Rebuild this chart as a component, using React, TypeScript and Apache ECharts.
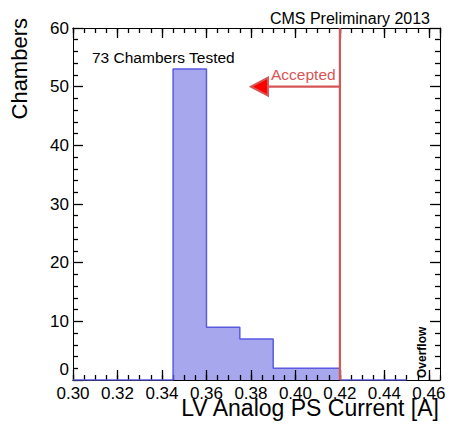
import React, { useEffect, useRef } from "react";
import * as echarts from "echarts";

// ---- data ----
const binEdges = [0.3, 0.315, 0.33, 0.345, 0.36, 0.375, 0.39, 0.405, 0.42, 0.435, 0.45];
const binCounts = [0, 0, 0, 53, 9, 7, 2, 2, 0, 0];
const cutValue = 0.42;
const arrowY = 50;
const arrowTipX = 0.38;
const xMin = 0.3;
const xMax = 0.465;
const yMin = 0;
const yMax = 60;
const xMajorStep = 0.02;
const xMinorStep = 0.005;
const yMajorStep = 10;

const FONT = "'Liberation Sans', Arial, Helvetica, sans-serif";
const RED = "#d65555";
const BLUE = "#5b5be0";
const FILL = "#a7a7ee";

function stepPoints(): number[][] {
  const pts: number[][] = [[binEdges[0], 0]];
  for (let i = 0; i < binCounts.length; i++) {
    pts.push([binEdges[i], binCounts[i]]);
    pts.push([binEdges[i + 1], binCounts[i]]);
  }
  pts.push([binEdges[binEdges.length - 1], 0]);
  return pts;
}

export default function App() {
  const ref = useRef<HTMLDivElement>(null);
  useEffect(() => {
    if (!ref.current) return;
    const chart = echarts.init(ref.current, undefined, { renderer: "svg" });
    const tickLine = { color: "#000", width: 1.3 };
    const xBase = {
      type: "value" as const,
      min: xMin,
      max: xMax,
      splitLine: { show: false },
      axisLine: { show: true, lineStyle: { color: "#000", width: 1 } },
      z: 3,
    };
    const yBase = {
      type: "value" as const,
      min: yMin,
      max: yMax,
      interval: yMajorStep,
      splitLine: { show: false },
      axisLine: { show: true, lineStyle: { color: "#000", width: 1 } },
      z: 3,
    };
    chart.setOption({
      animation: false,
      grid: { left: 73, top: 28, right: 9, bottom: 50 },
      xAxis: [
        {
          ...xBase,
          position: "bottom",
          interval: xMajorStep,
          axisTick: { show: true, inside: true, length: 10, lineStyle: tickLine },
          axisLabel: {
            color: "#000",
            fontSize: 17,
            fontFamily: FONT,
            margin: 5,
            showMaxLabel: false,
            formatter: (v: number) => v.toFixed(2),
          },
        },
        {
          ...xBase,
          position: "bottom",
          interval: xMinorStep,
          axisTick: { show: true, inside: true, length: 5, lineStyle: tickLine },
          axisLabel: { show: false },
        },
        {
          ...xBase,
          position: "top",
          interval: xMajorStep,
          axisTick: { show: true, inside: true, length: 10, lineStyle: tickLine },
          axisLabel: { show: false },
        },
        {
          ...xBase,
          position: "top",
          interval: xMinorStep,
          axisTick: { show: true, inside: true, length: 5, lineStyle: tickLine },
          axisLabel: { show: false },
        },
      ],
      yAxis: [
        {
          ...yBase,
          position: "left",
          axisTick: { show: true, inside: true, length: 10, lineStyle: tickLine },
          minorTick: { show: true, splitNumber: 5, length: 5, lineStyle: tickLine },
          axisLabel: {
            color: "#000",
            fontSize: 17,
            fontFamily: FONT,
            margin: 4,
            formatter: (v: number) => (v === 0 ? "{z|0}" : String(v)),
            rich: {
              z: { fontSize: 17, fontFamily: FONT, color: "#000", padding: [0, 0, 22, 0] },
            },
          },
        },
        {
          ...yBase,
          position: "right",
          axisTick: { show: true, inside: true, length: 10, lineStyle: tickLine },
          minorTick: { show: true, splitNumber: 5, length: 5, lineStyle: tickLine },
          axisLabel: { show: false },
        },
      ],
      series: [
        {
          type: "line",
          xAxisIndex: 0,
          yAxisIndex: 0,
          data: stepPoints(),
          symbol: "none",
          lineStyle: { width: 0, opacity: 0 },
          areaStyle: { color: FILL, opacity: 1 },
          z: 1,
        },
        {
          type: "line",
          xAxisIndex: 0,
          yAxisIndex: 0,
          data: stepPoints(),
          symbol: "none",
          lineStyle: { color: BLUE, width: 1.5 },
          z: 4,
        },
        {
          type: "line",
          xAxisIndex: 0,
          yAxisIndex: 0,
          data: [
            [cutValue, yMin],
            [cutValue, yMax],
          ],
          symbol: "none",
          lineStyle: { color: RED, width: 2.2 },
          z: 6,
        },
        {
          type: "custom",
          xAxisIndex: 0,
          yAxisIndex: 0,
          data: [[cutValue, arrowY, arrowTipX]],
          z: 6,
          renderItem: (_params: any, api: any) => {
            const start = api.coord([api.value(0), api.value(1)]);
            const tip = api.coord([api.value(2), api.value(1)]);
            const headLen = 17;
            const headHalf = 9;
            const baseX = tip[0] + headLen;
            return {
              type: "group",
              children: [
                {
                  type: "line",
                  shape: { x1: start[0], y1: start[1], x2: baseX, y2: tip[1] },
                  style: { stroke: RED, lineWidth: 2.2 },
                },
                {
                  type: "polygon",
                  shape: {
                    points: [
                      [tip[0], tip[1]],
                      [baseX, tip[1] - headHalf],
                      [baseX, tip[1] + headHalf],
                    ],
                  },
                  style: { fill: "#ff0000", stroke: RED, lineWidth: 2 },
                },
              ],
            };
          },
        },
      ],
      graphic: [
        {
          type: "text",
          x: 430,
          y: 18.5,
          style: {
            text: "CMS Preliminary 2013",
            fill: "#000",
            font: `16px ${FONT}`,
            align: "right",
            verticalAlign: "middle",
          },
        },
        {
          type: "text",
          x: 92,
          y: 57.5,
          style: {
            text: "73 Chambers Tested",
            fill: "#000",
            font: `15.5px ${FONT}`,
            align: "left",
            verticalAlign: "middle",
          },
        },
        {
          type: "text",
          x: 271,
          y: 74,
          style: {
            text: "Accepted",
            fill: RED,
            font: `15.5px ${FONT}`,
            align: "left",
            verticalAlign: "middle",
          },
        },
        {
          type: "text",
          x: 439,
          y: 408,
          style: {
            text: "LV Analog PS Current [A]",
            fill: "#000",
            font: `23px ${FONT}`,
            align: "right",
            verticalAlign: "middle",
          },
        },
        {
          type: "text",
          x: 19,
          y: 18,
          rotation: Math.PI / 2,
          style: {
            text: "Chambers",
            fill: "#000",
            font: `22px ${FONT}`,
            align: "right",
            verticalAlign: "middle",
          },
        },
        {
          type: "text",
          x: 422,
          y: 378,
          rotation: Math.PI / 2,
          style: {
            text: "Overflow",
            fill: "#000",
            font: `bold 12px ${FONT}`,
            align: "left",
            verticalAlign: "middle",
          },
        },
      ],
    });
    return () => chart.dispose();
  }, []);
  return (
    <div
      ref={ref}
      style={{ position: "fixed", left: 0, top: 0, width: 449, height: 430, background: "#fff" }}
    />
  );
}
